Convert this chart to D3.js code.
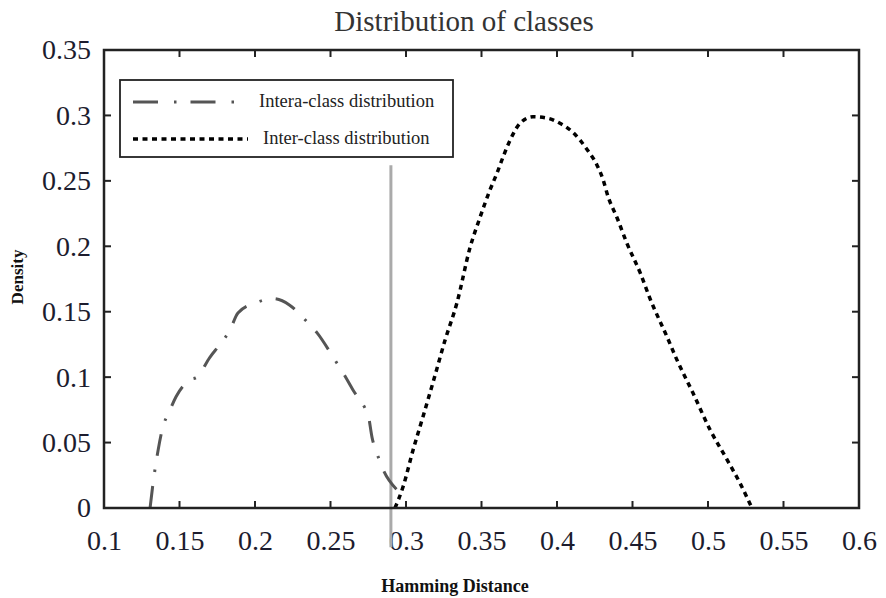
<!DOCTYPE html>
<html>
<head>
<meta charset="utf-8">
<script src="https://cdn.jsdelivr.net/npm/d3@7"></script>
<style>
  body { margin: 0; background: #fff; }
  svg { display: block; }
  text { font-family: "Liberation Serif", "DejaVu Serif", serif; }
</style>
</head>
<body>
<div id="chart"></div>
<script>
// Intra-class density (dash-dot curve)
const intraX = [0.1305, 0.1325, 0.1358, 0.139, 0.143, 0.1477, 0.157, 0.1616, 0.170, 0.1768, 0.1834, 0.1887,
                0.201, 0.212, 0.223, 0.233, 0.241, 0.253, 0.259, 0.265, 0.273, 0.275, 0.2775, 0.281, 0.285, 0.294];
const intraY = [0, 0.019, 0.044, 0.062, 0.073, 0.085, 0.098, 0.100, 0.115, 0.125, 0.136, 0.149,
                0.157, 0.160, 0.155, 0.144, 0.134, 0.113, 0.102, 0.090, 0.076, 0.071, 0.054, 0.041, 0.029, 0.014];

// Inter-class density (dotted curve)
const interX = [0.2927, 0.298, 0.3046, 0.3113, 0.3179, 0.3258, 0.3338, 0.3424, 0.349, 0.3556, 0.3603, 0.3642,
                0.3689, 0.3755, 0.3841, 0.3934, 0.402, 0.4106, 0.4199, 0.4265, 0.4305, 0.4338, 0.4397, 0.4464,
                0.455, 0.4616, 0.4728, 0.4795, 0.490, 0.5013, 0.5126, 0.5212, 0.5291];
const interY = [0, 0.016, 0.044, 0.070, 0.096, 0.128, 0.157, 0.199, 0.222, 0.243, 0.256, 0.268,
                0.281, 0.294, 0.299, 0.298, 0.294, 0.287, 0.274, 0.262, 0.251, 0.238, 0.222, 0.202,
                0.180, 0.160, 0.131, 0.113, 0.088, 0.060, 0.037, 0.019, 0];

// Decision threshold (gray vertical line)
const threshold = 0.29;
const thresholdTop = 0.262;

const xTicks = [0.1, 0.15, 0.2, 0.25, 0.3, 0.35, 0.4, 0.45, 0.5, 0.55, 0.6];
const yTicks = [0, 0.05, 0.1, 0.15, 0.2, 0.25, 0.3, 0.35];
const legendLabels = ["Intera-class distribution", "Inter-class distribution"];

const W = 886, H = 598;
const margin = { top: 50, right: 27, bottom: 90, left: 104 };
const width = W - margin.left - margin.right,
      height = H - margin.top - margin.bottom;

const svg = d3.select("#chart").append("svg")
    .attr("width", W).attr("height", H);

const g = svg.append("g")
    .attr("transform", "translate(" + margin.left + "," + margin.top + ")");

const x = d3.scaleLinear().domain([0.1, 0.6]).range([0, width]);
const y = d3.scaleLinear().domain([0, 0.35]).range([height, 0]);

const fmt = d => d === 0 ? "0" : String(+d.toFixed(2));

// bottom axis labels + inward ticks
const bottom = g.append("g").attr("transform", "translate(0," + height + ")")
    .call(d3.axisBottom(x).tickValues(xTicks).tickFormat(fmt).tickSize(0).tickPadding(22));
bottom.select(".domain").remove();
bottom.selectAll("text").style("font-size", "28px").attr("fill", "#1c1c2e").attr("font-family", "Liberation Serif");

const left = g.append("g")
    .call(d3.axisLeft(y).tickValues(yTicks).tickFormat(fmt).tickSize(0).tickPadding(13));
left.select(".domain").remove();
left.selectAll("text").style("font-size", "28px").attr("fill", "#1c1c2e").attr("font-family", "Liberation Serif");

// inner tick marks on all four sides
const inner = xTicks.slice(1, -1), innerY = yTicks.slice(1, -1);
const tl = 7;
g.selectAll(".tb").data(inner).enter().append("line")
    .attr("x1", d => x(d)).attr("x2", d => x(d)).attr("y1", height).attr("y2", height - tl)
    .attr("stroke", "#222").attr("stroke-width", 2);
g.selectAll(".tt").data(inner).enter().append("line")
    .attr("x1", d => x(d)).attr("x2", d => x(d)).attr("y1", 0).attr("y2", tl)
    .attr("stroke", "#222").attr("stroke-width", 2);
g.selectAll(".tl").data(innerY).enter().append("line")
    .attr("x1", 0).attr("x2", tl).attr("y1", d => y(d)).attr("y2", d => y(d))
    .attr("stroke", "#222").attr("stroke-width", 2);
g.selectAll(".tr").data(innerY).enter().append("line")
    .attr("x1", width).attr("x2", width - tl).attr("y1", d => y(d)).attr("y2", d => y(d))
    .attr("stroke", "#222").attr("stroke-width", 2);

// threshold line
g.append("line")
    .attr("x1", x(threshold)).attr("x2", x(threshold))
    .attr("y1", y(thresholdTop)).attr("y2", y(-0.03))
    .attr("stroke", "#aaa").attr("stroke-width", 3);

const line = d3.line().x(d => x(d[0])).y(d => y(d[1])).curve(d3.curveMonotoneX);

g.append("path")
    .datum(d3.zip(intraX, intraY))
    .attr("d", line)
    .attr("fill", "none").attr("stroke", "#555").attr("stroke-width", 3)
    .attr("stroke-dasharray", "22,14,2.5,14");

g.append("path")
    .datum(d3.zip(interX, interY))
    .attr("d", line)
    .attr("fill", "none").attr("stroke", "#000").attr("stroke-width", 3.5)
    .attr("stroke-dasharray", "5,4.5");

// frame
g.append("rect").attr("width", width).attr("height", height)
    .attr("fill", "none").attr("stroke", "#222").attr("stroke-width", 2.5);

// legend
const lg = svg.append("g").attr("transform", "translate(120,80)");
lg.append("rect").attr("width", 333).attr("height", 77)
    .attr("fill", "#fff").attr("stroke", "#222").attr("stroke-width", 1.8);
lg.append("line").attr("x1", 13).attr("x2", 115).attr("y1", 22).attr("y2", 22)
    .attr("stroke", "#555").attr("stroke-width", 3).attr("stroke-dasharray", "25,16,2.5,14");
lg.append("line").attr("x1", 13).attr("x2", 128).attr("y1", 59).attr("y2", 59)
    .attr("stroke", "#000").attr("stroke-width", 3.5).attr("stroke-dasharray", "5,4.5");
lg.append("text").attr("x", 139).attr("y", 27).text(legendLabels[0])
    .style("font-size", "18.5px").attr("fill", "#222");
lg.append("text").attr("x", 143).attr("y", 64).text(legendLabels[1])
    .style("font-size", "18.5px").attr("fill", "#222");

// title and axis labels
svg.append("text").attr("x", 464).attr("y", 31).attr("text-anchor", "middle")
    .style("font-size", "29px").attr("fill", "#333").text("Distribution of classes");

svg.append("text").attr("x", 455).attr("y", 592).attr("text-anchor", "middle")
    .style("font-size", "18px").style("font-weight", "bold").attr("fill", "#111").text("Hamming Distance");

svg.append("text").attr("transform", "translate(23,277) rotate(-90)").attr("text-anchor", "middle")
    .style("font-size", "17px").style("font-weight", "bold").attr("fill", "#111").text("Density");
</script>
</body>
</html>
